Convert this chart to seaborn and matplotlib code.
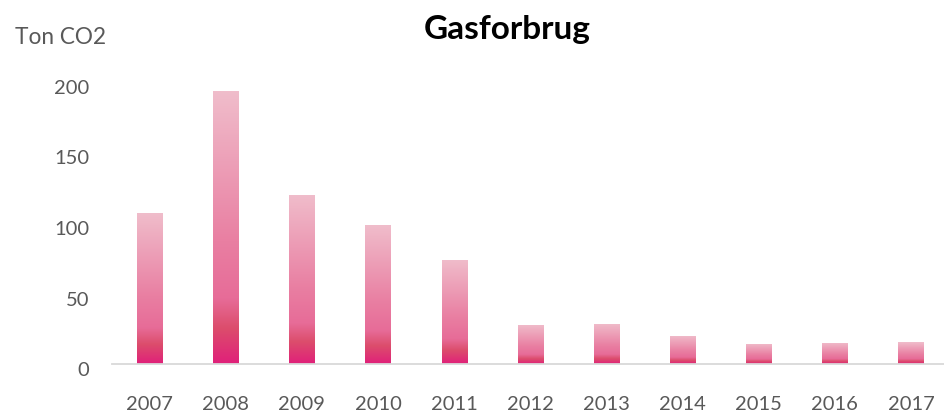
import numpy as np
import pandas as pd
import matplotlib
matplotlib.use("Agg")
import matplotlib.pyplot as plt
from matplotlib.colors import LinearSegmentedColormap
from matplotlib.transforms import ScaledTranslation
import seaborn as sns

# data
years = ["2007", "2008", "2009", "2010", "2011", "2012",
         "2013", "2014", "2015", "2016", "2017"]
ton_co2 = [107, 193.5, 120, 98.5, 74, 28, 28.5, 20, 14.5, 15, 15.5]
yticks = [0, 50, 100, 150, 200]

df = pd.DataFrame({"aar": years, "ton": ton_co2})

sns.set_theme(style="white")
plt.rcParams["font.family"] = ["Lato", "DejaVu Sans"]

grey = "#595959"

fig = plt.figure(figsize=(9.44, 4.14), dpi=100)
# axes placed in pixel terms
ax = fig.add_axes([111.5 / 944, 49 / 414, (944 - 111.5) / 944, 282 / 414])

sns.barplot(data=df, x="aar", y="ton", ax=ax, width=0.33,
            color="#E8799F", saturation=1)

# gradient fill for each bar (light pink top -> deep pink bottom)
grad = LinearSegmentedColormap.from_list(
    "gas", [(0.0, "#E0207A"), (0.13, "#DC4D6C"), (0.24, "#E76C98"),
            (0.45, "#E97FA2"), (1.0, "#F0BDCB")])
gimg = np.linspace(0, 1, 256).reshape(-1, 1)
for p in ax.patches:
    x0, y0 = p.get_x(), p.get_y()
    w, h = p.get_width(), p.get_height()
    p.set_facecolor("none")
    p.set_edgecolor("none")
    im = ax.imshow(gimg, cmap=grad, origin="lower", aspect="auto",
                   extent=[x0, x0 + w, y0, y0 + h], zorder=2)
    im.set_clip_path(p)

ax.set_xlim(-0.5, 10.433)
ax.set_ylim(0, 200)
ax.set_yticks(yticks)
ax.set_xlabel("")
ax.set_ylabel("")

for s in ["left", "right", "top"]:
    ax.spines[s].set_visible(False)
ax.spines["bottom"].set_color("#D9D9D9")
ax.spines["bottom"].set_linewidth(1.3)
ax.grid(False)

ax.tick_params(axis="both", length=0, labelsize=14.5, labelcolor=grey)
ax.tick_params(axis="y", pad=16)
ax.tick_params(axis="x", pad=22)

# y labels sit a little below their values in the original
shift = ScaledTranslation(0, -4 / 100, fig.dpi_scale_trans)
for lab in ax.get_yticklabels():
    lab.set_transform(lab.get_transform() + shift)

fig.text(507 / 944, 1 - 29 / 414, "Gasforbrug", ha="center", va="center",
         fontsize=24, fontweight="bold", color="black")
fig.text(15 / 944, 1 - 38 / 414, "Ton CO2", ha="left", va="center",
         fontsize=16.3, color=grey)

fig.savefig("out.png", dpi=100)
